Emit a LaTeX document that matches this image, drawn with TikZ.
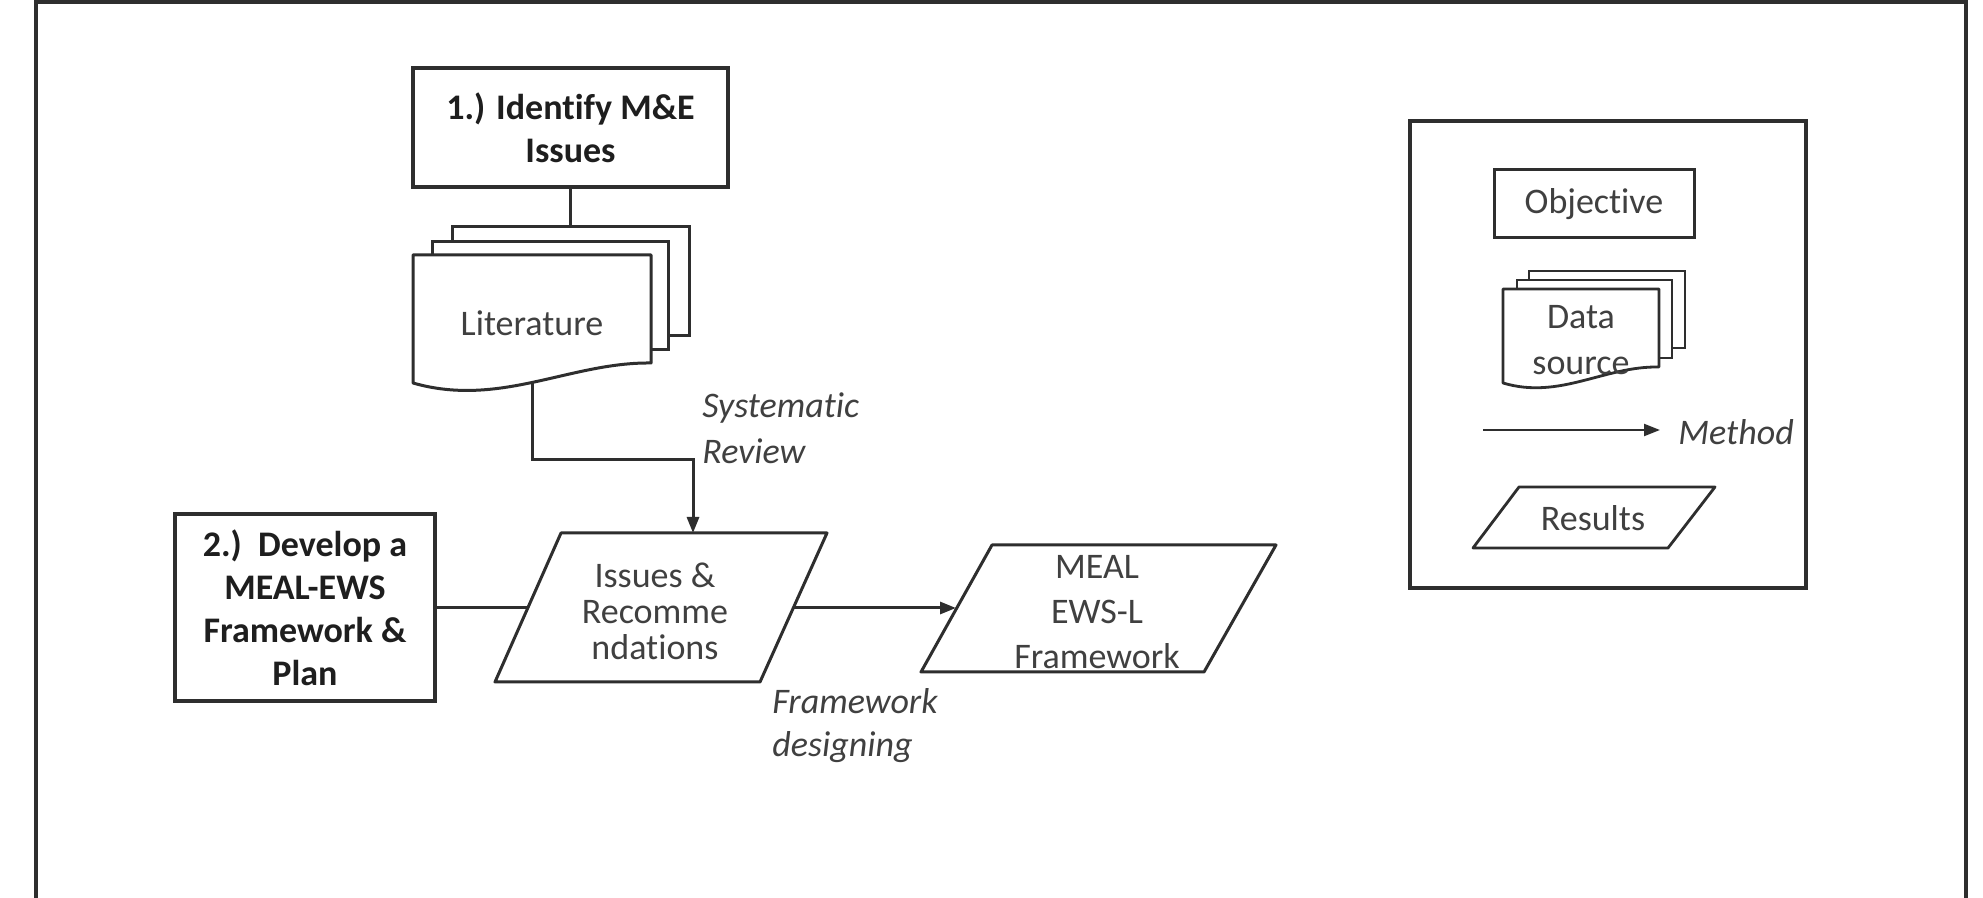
\documentclass[tikz,border=0pt]{standalone}
\usepackage{fontspec}
\setmainfont{Carlito}[Ligatures={NoCommon}]
\usetikzlibrary{arrows.meta}
\definecolor{lncol}{HTML}{2E2E2E}
\definecolor{txtcol}{HTML}{404040}
\definecolor{boldcol}{HTML}{1E1E1E}
\begin{document}
\begin{tikzpicture}[x=0.5pt,y=-0.5pt,
 box/.style={draw=lncol, line width=1.7pt, fill=white, inner sep=0pt, align=center},
 boldtxt/.style={font=\bfseries\fontsize{18pt}{21.5pt}\selectfont, text=boldcol},
 regtxt/.style={font=\fontsize{18pt}{18pt}\selectfont, text=txtcol, align=center, inner sep=0pt},
 lbl/.style={font=\itshape\fontsize{18pt}{23pt}\selectfont, text=txtcol, align=left, anchor=west, inner sep=0pt},
 conn/.style={draw=lncol, line width=1.5pt},
 arr/.style={conn, -{Triangle[length=8pt,width=6pt]}},
 page/.style={draw=lncol, line width=1.5pt, fill=white, line join=round},
]
\useasboundingbox (0,0) rectangle (1983,898);
\fill[white] (0,0) rectangle (1983,898);
\draw[conn, line width=1.8pt] (36,898) -- (36,2) -- (1966,2) -- (1966,898);

% ---- step 1
\node[box, boldtxt, minimum width=157.5pt, minimum height=59.5pt] (ident) at (570.5,127.5) {1.) Identify M\&E\\Issues};

% literature stack
\node[box, line width=1.5pt, minimum width=118.5pt, minimum height=54.5pt] (litback) at (570.5,281.5) {};
\node[box, line width=1.5pt, minimum width=118pt, minimum height=54pt] (litmid) at (550,296) {};
\draw[page] (413,255) -- (651,255) -- (651,363) .. controls (570,362) and (500,408) .. (413,383) -- cycle;
\node[regtxt] (lit) at (532,323) {Literature};
\coordinate (litbot) at (532,382);
\draw[conn] (ident.south) -- (litback.north);

% issues parallelogram
\draw[page] (561,533) -- (827,533) -- (760,682) -- (495,682) -- cycle;
\node[regtxt] (iss) at (655,611) {Issues \&\\Recomme\\ndations};
\coordinate (issT) at (693,533);
\coordinate (bend) at (693,460);
\coordinate (issL) at (528,607.5);
\coordinate (issR) at (793,608);
\draw[arr] (litbot) |- (bend) -- (issT);
\node[lbl] (sysrev) at (702,428) {Systematic\\Review};

% ---- step 2
\node[box, boldtxt, minimum width=130pt, minimum height=93.5pt] (dev) at (305,607.5) {2.)\ \ Develop a\\MEAL-EWS\\Framework \&\\Plan};
\draw[conn] (dev.east) -- (issL);

% MEAL parallelogram
\draw[page] (992,545) -- (1276,545) -- (1204,672) -- (921,672) -- cycle;
\node[regtxt, font=\fontsize{18pt}{22.5pt}\selectfont] (meal) at (1097,612) {MEAL\\EWS-L\\Framework};
\coordinate (mealL) at (956,608);
\draw[arr] (issR) -- (mealL);
\node[lbl, font=\itshape\fontsize{18pt}{21.5pt}\selectfont] (fd) at (772,726) {Framework\\designing};

% ---- legend
\node[box, line width=1.6pt, fill=none, minimum width=198pt, minimum height=233.5pt] (legend) at (1608,354.5) {};
\node[box, line width=1.5pt, minimum width=100pt, minimum height=34pt, font=\fontsize{18pt}{18pt}\selectfont, text=txtcol] (obj) at (1594,204) {Objective};
\node[box, line width=1.4pt, minimum width=78pt, minimum height=38.5pt] (dsback) at (1607,309.5) {};
\node[box, line width=1.4pt, minimum width=77.5pt, minimum height=39pt] (dsmid) at (1594.5,319) {};
\draw[page, line width=1.4pt] (1503,289) -- (1659,289) -- (1659,367) .. controls (1604,366) and (1560,400) .. (1503,383) -- cycle;
\node[regtxt, font=\fontsize{18pt}{23pt}\selectfont] (ds) at (1581,340) {Data\\source};
\coordinate (mA) at (1483,430);
\coordinate (mB) at (1660,430);
\draw[arr, line width=1.1pt] (mA) -- (mB);
\node[lbl] (meth) at (1678,432) {Method};
\draw[page, line width=1.4pt] (1519,487) -- (1715,487) -- (1668,548) -- (1473,548) -- cycle;
\node[regtxt] (res) at (1593,518) {Results};
\end{tikzpicture}
\end{document}
